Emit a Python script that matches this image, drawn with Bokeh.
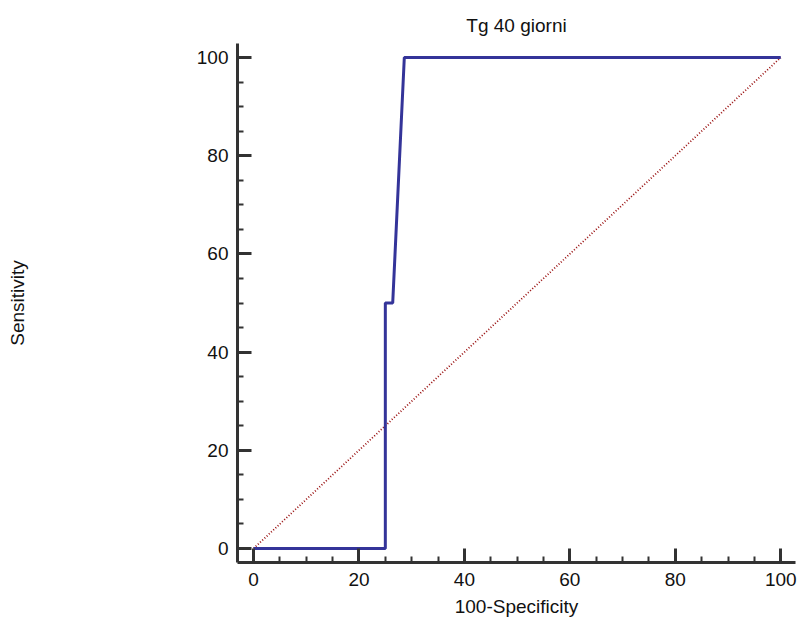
from bokeh.plotting import figure
from bokeh.models import Range1d, SingleIntervalTicker, Title
from bokeh.embed import file_html
from bokeh.resources import INLINE

# ROC curve data (100-Specificity, Sensitivity)
roc_fpr = [0, 25, 25, 26.4, 28.6, 100]
roc_tpr = [0, 0, 50, 50, 100, 100]
diag_x = [0, 100]
diag_y = [0, 100]
title_text = "Tg 40 giorni"
x_label = "100-Specificity"
y_label = "Sensitivity"

FONT = "Liberation Sans"
FS = "19px"

p = figure(width=800, height=620, output_backend="svg", toolbar_location=None,
           x_range=Range1d(-3.04, 102.8), y_range=Range1d(-2.85, 102.85),
           min_border_left=237, min_border_right=5, min_border_top=43, min_border_bottom=58)
p.outline_line_color = None
p.xgrid.grid_line_color = None
p.ygrid.grid_line_color = None
p.background_fill_color = "white"
p.border_fill_color = "white"

p.title = Title(text=title_text, align="center", text_font=FONT, text_font_size=FS,
                text_font_style="normal", text_color="#111111", standoff=15)

for ax in (p.xaxis[0], p.yaxis[0]):
    ax.ticker = SingleIntervalTicker(interval=20, num_minor_ticks=4)
    ax.axis_line_color = "#333333"
    ax.axis_line_width = 3
    ax.major_tick_line_color = "#333333"
    ax.major_tick_line_width = 3
    ax.minor_tick_line_color = "#333333"
    ax.minor_tick_line_width = 2
    ax.major_tick_in = 14
    ax.major_tick_out = 0
    ax.minor_tick_in = 6
    ax.minor_tick_out = 0
    ax.major_label_text_font = FONT
    ax.major_label_text_font_size = FS
    ax.major_label_text_color = "#111111"
    ax.axis_label_text_font = FONT
    ax.axis_label_text_font_size = FS
    ax.axis_label_text_font_style = "normal"
    ax.axis_label_text_color = "#111111"

p.xaxis[0].axis_label = x_label
p.yaxis[0].axis_label = y_label
p.xaxis[0].major_label_standoff = 10
p.xaxis[0].axis_label_standoff = 7
p.yaxis[0].major_label_standoff = 9
p.yaxis[0].axis_label_standoff = 166

p.line(diag_x, diag_y, line_color="#990f0f", line_width=1.8, line_dash="1 2")
p.line(roc_fpr, roc_tpr, line_color="#343499", line_width=3)

open("out.html", "w").write(file_html(p, INLINE))
